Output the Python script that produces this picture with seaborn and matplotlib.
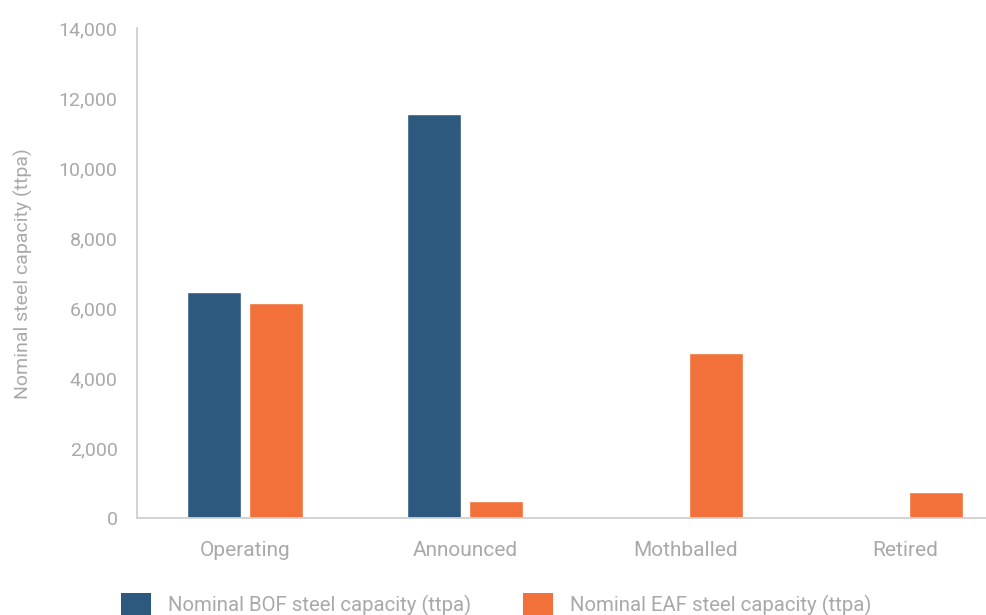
import matplotlib
matplotlib.use("Agg")
import matplotlib.pyplot as plt
import seaborn as sns
import pandas as pd
from matplotlib.patches import Patch

# Steel plant capacity by status (thousand tonnes per annum)
statuses = ["Operating", "Announced", "Mothballed", "Retired"]
bof_capacity = [6460, 11570, 0, 0]
eaf_capacity = [6150, 495, 4720, 750]
series_names = ["Nominal BOF steel capacity (ttpa)", "Nominal EAF steel capacity (ttpa)"]
y_ticks = [0, 2000, 4000, 6000, 8000, 10000, 12000, 14000]

colors = ["#2e597f", "#f2713a"]
text_color = "#a9a9a9"
spine_color = "#d0d0d0"

df = pd.DataFrame({
    "status": statuses * 2,
    "capacity": bof_capacity + eaf_capacity,
    "type": [series_names[0]] * len(statuses) + [series_names[1]] * len(statuses),
})

sns.set_theme(style="white")
plt.rcParams["font.family"] = ["Roboto", "DejaVu Sans"]

fig = plt.figure(figsize=(9.86, 6.15), dpi=100)
ax = fig.add_axes([137 / 986, 1 - 518.3 / 615, 849 / 986, (518.3 - 28.5) / 615])

sns.barplot(data=df, x="status", y="capacity", hue="type", order=statuses,
            hue_order=series_names, palette=colors, width=0.5636, gap=0.129,
            saturation=1, ax=ax, legend=False)

ax.set_xlim(-0.493, 3.366)
ax.set_ylim(0, 14000)
ax.set_yticks(y_ticks)
ax.set_yticklabels([f"{v:,}" for v in y_ticks])

for side in ["top", "right"]:
    ax.spines[side].set_visible(False)
for side in ["left", "bottom"]:
    ax.spines[side].set_color(spine_color)
    ax.spines[side].set_linewidth(1.3)

ax.tick_params(axis="y", length=0, pad=14, labelsize=14, labelcolor=text_color)
ax.tick_params(axis="x", length=0, pad=16, labelsize=15, labelcolor=text_color)

ax.set_xlabel("")
ax.set_ylabel("Nominal steel capacity (ttpa)", fontsize=14, color=text_color)
ax.yaxis.set_label_coords(-0.122, 0.5)

handles = [Patch(facecolor=c, edgecolor="none") for c in colors]
leg = fig.legend(handles, series_names, loc="center", bbox_to_anchor=(0.503, 0.017),
                 ncol=2, frameon=False, fontsize=14.7, handlelength=1.47,
                 handleheight=1.22, handletextpad=0.83, columnspacing=2.55,
                 labelcolor=text_color)

fig.savefig("out.png", dpi=100, facecolor="white")
